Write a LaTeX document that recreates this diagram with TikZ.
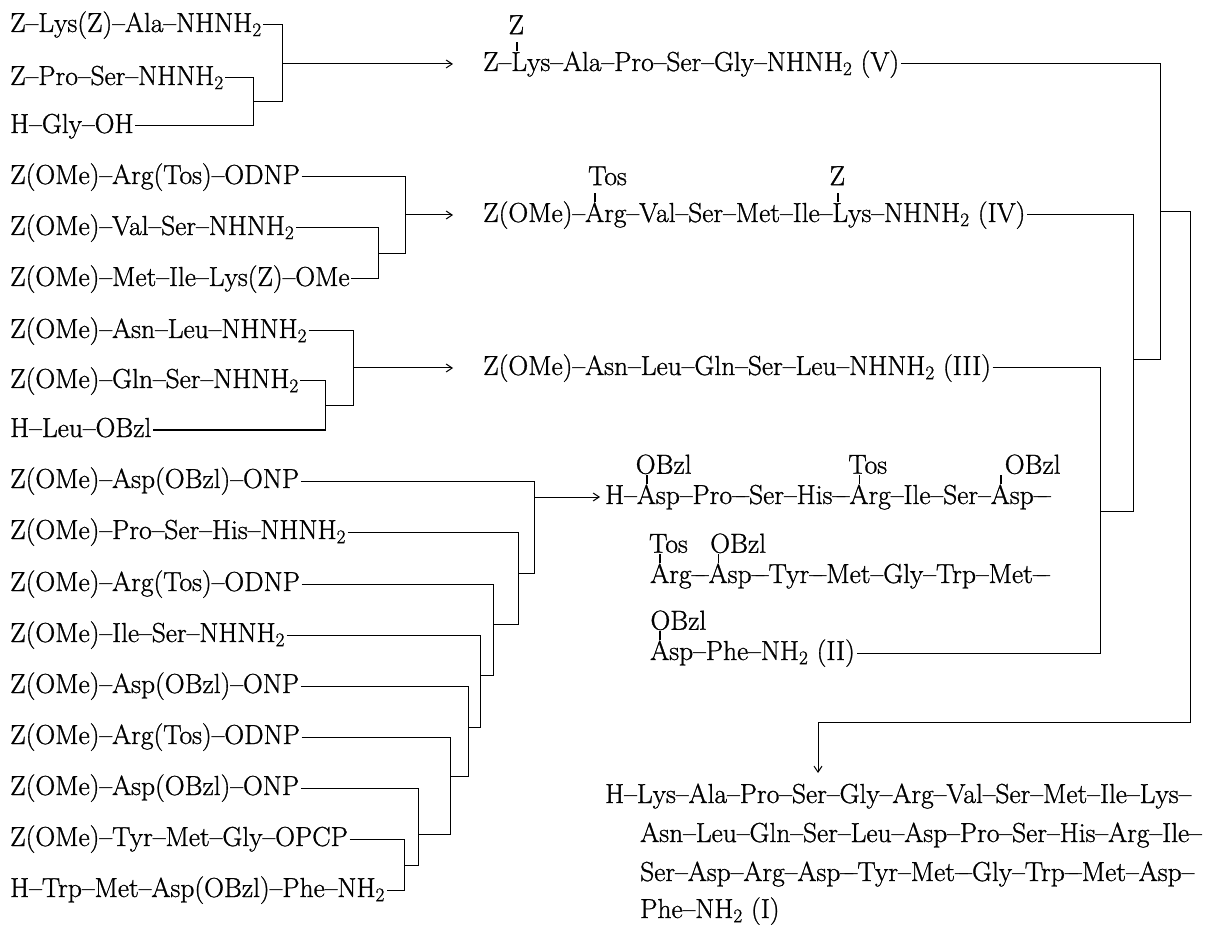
\documentclass[tikz,border=0pt]{standalone}
\usepackage{fontspec}
\setmainfont{lmroman17-regular.otf}[FakeBold=1.0]
\usetikzlibrary{arrows.meta}
\newcommand\fs{\fontsize{27.5}{32}\selectfont}
\newcommand\LD{--\kern-0.3em--}
% #1 label, #2 residue, #3 tick x, #4 label x rel. to tick, #5 label raise
\newcommand\prot[5]{\leavevmode\rlap{\kern#3\rlap{\kern-0.03em\rule[0.72em]{0.06em}{0.32em}}\kern#4\raisebox{#5}{#1}}#2}
\tikzset{
  txt/.style={anchor=base west,inner xsep=1.5pt,inner ysep=0pt,font=\fs},
  ln/.style={line width=1pt,line join=miter},
  arr/.style={ln,-{Straight Barb[length=6pt,width=8pt,line width=1pt]}},
}
\begin{document}
\begin{tikzpicture}[x=1pt,y=-1pt]
\useasboundingbox (0,0) rectangle (1211,925);
% ---------------- left column ----------------
\node[txt] (r1)  at (8.5,32)  {Z--Lys(Z)--Ala--NHNH\textsubscript{2}};
\node[txt] (r2)  at (8.5,85)  {Z--Pro--Ser--NHNH\textsubscript{2}};
\node[txt] (r3)  at (8.5,133) {H--Gly--OH};
\node[txt] (r4)  at (8.5,184) {Z(OMe)--Arg(Tos)--ODNP};
\node[txt] (r5)  at (8.5,235) {Z(OMe)--Val--Ser--NHNH\textsubscript{2}};
\node[txt] (r6)  at (8.5,286) {Z(OMe)--Met--Ile--Lys(Z)--OMe};
\node[txt] (r7)  at (8.5,338) {Z(OMe)--Asn--Leu--NHNH\textsubscript{2}};
\node[txt] (r8)  at (8.5,388) {Z(OMe)--Gln--Ser--NHNH\textsubscript{2}};
\node[txt] (r9)  at (8.5,437) {H--Leu--OBzl};
\node[txt] (r10) at (8.5,488) {Z(OMe)--Asp(OBzl)--ONP};
\node[txt] (r11) at (8.5,539) {Z(OMe)--Pro--Ser--His--NHNH\textsubscript{2}};
\node[txt] (r12) at (8.5,591) {Z(OMe)--Arg(Tos)--ODNP};
\node[txt] (r13) at (8.5,642) {Z(OMe)--Ile--Ser--NHNH\textsubscript{2}};
\node[txt] (r14) at (8.5,693) {Z(OMe)--Asp(OBzl)--ONP};
\node[txt] (r15) at (8.5,744) {Z(OMe)--Arg(Tos)--ODNP};
\node[txt] (r16) at (8.5,795) {Z(OMe)--Asp(OBzl)--ONP};
\node[txt] (r17) at (8.5,846) {Z(OMe)--Tyr--Met--Gly--OPCP};
\node[txt] (r18) at (8.5,897) {H--Trp--Met--Asp(OBzl)--Phe--NH\textsubscript{2}};
% ---------------- products ----------------
\node[txt] (V)   at (481.5,71)  {Z--\prot{Z}{Lys}{0.2em}{-0.3em}{1.34em}--Ala--Pro--Ser--Gly--NHNH\textsubscript{2} (V)};
\node[txt] (IV)  at (481.5,222) {Z(OMe)--\prot{Tos}{Arg}{0.36em}{-0.25em}{1.34em}--Val--Ser--Met--Ile--\prot{Z}{Lys}{0.2em}{-0.3em}{1.34em}--NHNH\textsubscript{2} (IV)};
\node[txt] (III) at (481.5,375) {Z(OMe)--Asn--Leu--Gln--Ser--Leu--NHNH\textsubscript{2} (III)};
\node[txt] (II1) at (603.5,504) {H--\prot{OBzl}{Asp}{0.36em}{-0.4em}{1.1em}--Pro\LD Ser--His\LD\prot{Tos}{Arg}{0.36em}{-0.4em}{1.1em}--Ile--Ser--\prot{OBzl}{Asp}{0.36em}{0.15em}{1.1em}\LD};
\node[txt] (II2) at (648.5,583) {\prot{Tos}{Arg}{0.36em}{-0.4em}{1.1em}\LD\prot{OBzl}{Asp}{0.36em}{-0.3em}{1.1em}\LD Tyr\LD Met--Gly--Trp--Met\LD};
\node[txt] (II3) at (648.5,660) {\prot{OBzl}{Asp}{0.36em}{-0.35em}{1.1em}--Phe--NH\textsubscript{2} (II)};
\node[txt] (I1)  at (603.5,803) {H--Lys--Ala--Pro--Ser--Gly--Arg--Val--Ser--Met--Ile--Lys--};
\node[txt] (I2)  at (638.5,842) {Asn--Leu--Gln--Ser--Leu--Asp--Pro--Ser--His--Arg--Ile--};
\node[txt] (I3)  at (638.5,881) {Ser--Asp--Arg--Asp\LD Tyr--Met\LD Gly--Trp\LD Met--Asp--};
\node[txt] (I4)  at (638.5,918) {Phe--NH\textsubscript{2} (I)};
% ---------------- group 1 ----------------
\coordinate (g1a) at (282,25);  \coordinate (g1j) at (282,102); \coordinate (g1o) at (282,64);
\coordinate (g1b) at (253,78);  \coordinate (g1c) at (253,126); \coordinate (g1i) at (253,102);
\coordinate (t1) at (453,64);
\draw[ln] (r1.base east |- g1a) -- (g1a) -- (g1j) -- (g1i);
\draw[ln] (r2.base east |- g1b) -- (g1b) -- (g1c) -- (r3.base east |- g1c);
\draw[arr] (g1o) -- (t1);
% ---------------- group 2 ----------------
\coordinate (g2a) at (405,177); \coordinate (g2j) at (405,253.5); \coordinate (g2o) at (405,215);
\coordinate (g2b) at (378,228); \coordinate (g2c) at (378,279);   \coordinate (g2i) at (378,253.5);
\coordinate (t2) at (453,215);
\draw[ln] (r4.base east |- g2a) -- (g2a) -- (g2j) -- (g2i);
\draw[ln] (r5.base east |- g2b) -- (g2b) -- (g2c) -- (r6.base east |- g2c);
\draw[arr] (g2o) -- (t2);
% ---------------- group 3 ----------------
\coordinate (g3a) at (353,331); \coordinate (g3j) at (353,405.5); \coordinate (g3o) at (353,368);
\coordinate (g3b) at (325,381); \coordinate (g3c) at (325,430);   \coordinate (g3i) at (325,405.5);
\coordinate (t3) at (453,368);
\draw[ln] (r7.base east |- g3a) -- (g3a) -- (g3j) -- (g3i);
\draw[ln] (r8.base east |- g3b) -- (g3b) -- (g3c) -- (r9.base east |- g3c);
\draw[arr] (g3o) -- (t3);
% ---------------- group 4 (nested chain) ----------------
\coordinate (k17a) at (404,839); \coordinate (k17b) at (404,890); \coordinate (k17o) at (404,865);
\coordinate (k16a) at (418,788); \coordinate (k16b) at (418,865); \coordinate (k16o) at (418,834);
\coordinate (k15a) at (450,737); \coordinate (k15b) at (450,834); \coordinate (k15o) at (450,776);
\coordinate (k14a) at (468,686); \coordinate (k14b) at (468,776); \coordinate (k14o) at (468,727);
\coordinate (k13a) at (480,635); \coordinate (k13b) at (480,727); \coordinate (k13o) at (480,675);
\coordinate (k12a) at (493,584); \coordinate (k12b) at (493,675); \coordinate (k12o) at (493,624);
\coordinate (k11a) at (518,532); \coordinate (k11b) at (518,624); \coordinate (k11o) at (518,573);
\coordinate (k10a) at (534,481); \coordinate (k10b) at (534,573); \coordinate (k10o) at (534,497);
\coordinate (t4) at (600,497);
\draw[ln] (r17.base east |- k17a) -- (k17a) -- (k17b) -- (r18.base east |- k17b);
\draw[ln] (r16.base east |- k16a) -- (k16a) -- (k16b) -- (k17o);
\draw[ln] (r15.base east |- k15a) -- (k15a) -- (k15b) -- (k16o);
\draw[ln] (r14.base east |- k14a) -- (k14a) -- (k14b) -- (k15o);
\draw[ln] (r13.base east |- k13a) -- (k13a) -- (k13b) -- (k14o);
\draw[ln] (r12.base east |- k12a) -- (k12a) -- (k12b) -- (k13o);
\draw[ln] (r11.base east |- k11a) -- (k11a) -- (k11b) -- (k12o);
\draw[ln] (r10.base east |- k10a) -- (k10a) -- (k10b) -- (k11o);
\draw[arr] (k10o) -- (t4);
% ---------------- right side ----------------
\coordinate (vR) at (1160,64);    \coordinate (vB) at (1160,360);   \coordinate (vO) at (1160,212);
\coordinate (ivR) at (1133,215);  \coordinate (ivB) at (1133,511);  \coordinate (ivO) at (1133,360);
\coordinate (iiiR) at (1100,368); \coordinate (iiiB) at (1100,653); \coordinate (iiiO) at (1100,511);
\coordinate (fR) at (1190,212); \coordinate (fB) at (1190,722); \coordinate (fL) at (818,722); \coordinate (fT) at (818,773);
\draw[ln] (V.base east |- vR) -- (vR) -- (vB) -- (ivO);
\draw[ln] (IV.base east |- ivR) -- (ivR) -- (ivB) -- (iiiO);
\draw[ln] (III.base east |- iiiR) -- (iiiR) -- (iiiB) -- (II3.base east |- iiiB);
\draw[arr] (vO) -- (fR) -- (fB) -- (fL) -- (fT);
\end{tikzpicture}
\end{document}
